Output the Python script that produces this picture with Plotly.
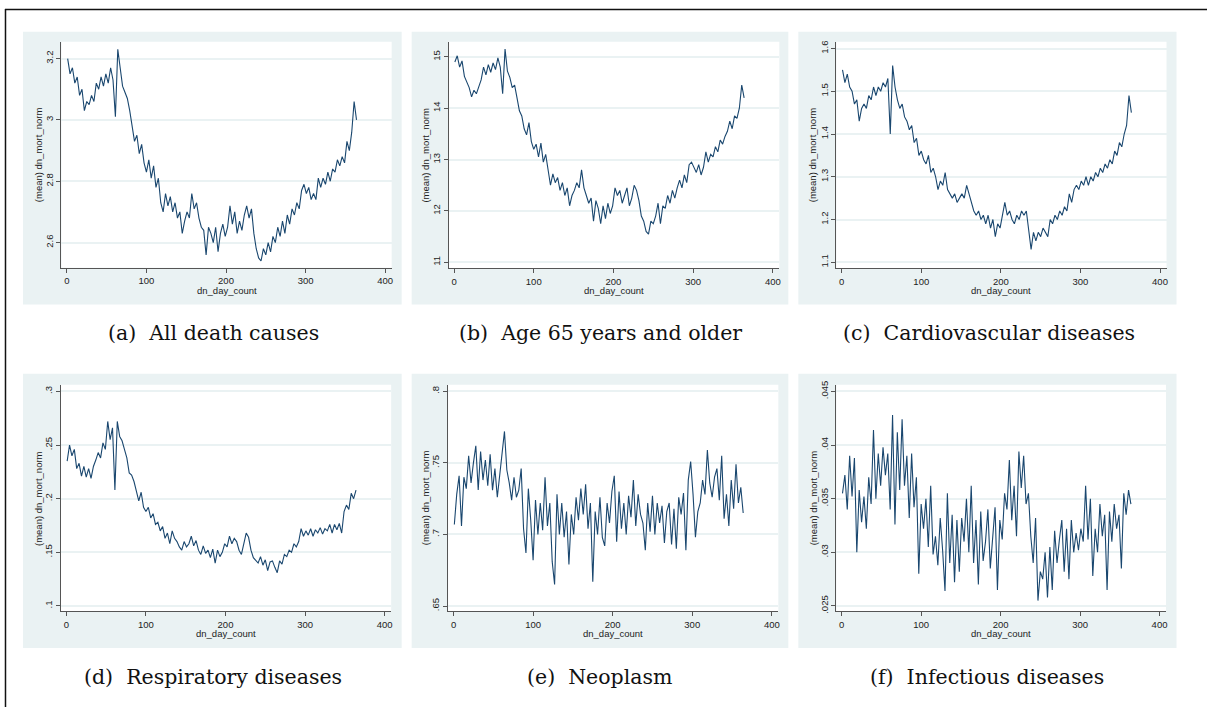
import plotly.graph_objects as go

# ---------------- data ----------------
day = list(range(1, 366, 3))

all_causes = [
    3.20, 3.15, 3.17, 3.12, 3.14, 3.08, 3.10, 3.03, 3.06, 3.05,
    3.08, 3.06, 3.12, 3.10, 3.14, 3.11, 3.15, 3.12, 3.17, 3.13,
    3.01, 3.23, 3.17, 3.11, 3.09, 3.07, 3.03, 2.98, 2.93, 2.95,
    2.89, 2.92, 2.86, 2.83, 2.87, 2.81, 2.85, 2.78, 2.81, 2.73,
    2.70, 2.76, 2.72, 2.75, 2.70, 2.73, 2.68, 2.70, 2.63, 2.67,
    2.70, 2.68, 2.76, 2.71, 2.73, 2.68, 2.65, 2.64, 2.56, 2.65,
    2.63, 2.60, 2.65, 2.57, 2.63, 2.66, 2.62, 2.65, 2.72, 2.66,
    2.70, 2.63, 2.67, 2.64, 2.69, 2.72, 2.68, 2.71, 2.63, 2.58,
    2.55, 2.54, 2.58, 2.56, 2.60, 2.57, 2.62, 2.60, 2.65, 2.62,
    2.67, 2.63, 2.69, 2.66, 2.71, 2.69, 2.73, 2.71, 2.77, 2.79,
    2.76, 2.78, 2.74, 2.76, 2.74, 2.81, 2.78, 2.81, 2.79, 2.83,
    2.80, 2.84, 2.83, 2.87, 2.85, 2.88, 2.86, 2.93, 2.90, 2.96,
    3.06, 3.00,
]

age65 = [
    14.90, 15.02, 14.80, 14.92, 14.62, 14.50, 14.40, 14.22, 14.35, 14.28,
    14.42, 14.55, 14.80, 14.65, 14.85, 14.70, 14.88, 14.75, 14.98, 14.80,
    14.28, 15.15, 14.72, 14.60, 14.40, 14.45, 14.20, 13.95, 13.85, 13.60,
    13.48, 13.72, 13.35, 13.20, 13.30, 13.05, 13.32, 12.95, 13.10, 12.80,
    12.50, 12.72, 12.55, 12.65, 12.40, 12.55, 12.30, 12.45, 12.10, 12.30,
    12.40, 12.55, 12.45, 12.80, 12.45, 12.30, 12.15, 12.25, 11.80, 12.20,
    12.05, 11.75, 12.10, 11.85, 12.15, 11.95, 12.10, 12.45, 12.30, 12.40,
    12.15, 12.30, 12.45, 12.10, 12.25, 12.50, 12.40, 12.20, 11.90, 11.80,
    11.60, 11.55, 11.80, 11.75, 11.90, 12.15, 11.75, 12.10, 12.05, 12.30,
    12.15, 12.40, 12.25, 12.45, 12.60, 12.45, 12.70, 12.55, 12.90, 12.95,
    12.85, 12.75, 12.90, 12.70, 12.85, 13.15, 12.95, 13.10, 13.05, 13.25,
    13.15, 13.38, 13.30, 13.45, 13.55, 13.75, 13.60, 13.85, 13.80, 14.00,
    14.45, 14.20,
]

cardio = [
    1.55, 1.52, 1.54, 1.51, 1.50, 1.47, 1.48, 1.43, 1.46, 1.47,
    1.46, 1.49, 1.48, 1.51, 1.49, 1.51, 1.50, 1.52, 1.51, 1.53,
    1.40, 1.56, 1.51, 1.48, 1.46, 1.47, 1.44, 1.43, 1.41, 1.42,
    1.38, 1.39, 1.35, 1.36, 1.34, 1.33, 1.35, 1.31, 1.32, 1.30,
    1.27, 1.29, 1.28, 1.31, 1.27, 1.26, 1.25, 1.26, 1.24, 1.25,
    1.26, 1.25, 1.28, 1.26, 1.24, 1.22, 1.21, 1.22, 1.20, 1.21,
    1.19, 1.21, 1.18, 1.20, 1.16, 1.19, 1.18, 1.21, 1.24, 1.21,
    1.22, 1.20, 1.19, 1.21, 1.20, 1.22, 1.21, 1.22, 1.18, 1.13,
    1.17, 1.15, 1.17, 1.16, 1.18, 1.17, 1.16, 1.20, 1.19, 1.21,
    1.20, 1.22, 1.21, 1.23, 1.22, 1.26, 1.24, 1.27, 1.28, 1.27,
    1.29, 1.28, 1.30, 1.28, 1.30, 1.29, 1.31, 1.30, 1.32, 1.31,
    1.33, 1.32, 1.34, 1.33, 1.36, 1.35, 1.38, 1.37, 1.40, 1.42,
    1.49, 1.45,
]

respiratory = [
    0.235, 0.250, 0.240, 0.246, 0.228, 0.233, 0.221, 0.230, 0.220, 0.228,
    0.219, 0.230, 0.236, 0.243, 0.238, 0.252, 0.246, 0.272, 0.255, 0.266,
    0.208, 0.272, 0.258, 0.254, 0.246, 0.238, 0.224, 0.222, 0.216, 0.208,
    0.198, 0.206, 0.192, 0.188, 0.192, 0.182, 0.186, 0.176, 0.178, 0.170,
    0.174, 0.163, 0.168, 0.158, 0.170, 0.163, 0.160, 0.155, 0.152, 0.160,
    0.155, 0.158, 0.165, 0.156, 0.161, 0.152, 0.148, 0.156, 0.149, 0.152,
    0.145, 0.153, 0.140, 0.152, 0.146, 0.150, 0.158, 0.155, 0.165, 0.158,
    0.163, 0.160, 0.152, 0.148, 0.158, 0.168, 0.164, 0.152, 0.145, 0.142,
    0.140, 0.146, 0.138, 0.143, 0.133, 0.141, 0.142, 0.136, 0.131, 0.142,
    0.139, 0.148, 0.146, 0.152, 0.150, 0.158, 0.155, 0.160, 0.172, 0.165,
    0.170, 0.166, 0.172, 0.165, 0.171, 0.168, 0.173, 0.167, 0.172, 0.170,
    0.176, 0.168, 0.176, 0.171, 0.177, 0.168, 0.188, 0.194, 0.190, 0.205,
    0.200, 0.208,
]

neoplasm = [
    0.707, 0.728, 0.741, 0.706, 0.740, 0.732, 0.755, 0.736, 0.750, 0.762,
    0.731, 0.758, 0.738, 0.752, 0.734, 0.756, 0.731, 0.746, 0.726, 0.742,
    0.754, 0.772, 0.745, 0.736, 0.724, 0.740, 0.726, 0.731, 0.746, 0.704,
    0.687, 0.732, 0.710, 0.682, 0.724, 0.700, 0.722, 0.703, 0.740, 0.706,
    0.722, 0.681, 0.665, 0.728, 0.700, 0.722, 0.698, 0.716, 0.679, 0.714,
    0.700, 0.726, 0.710, 0.732, 0.714, 0.735, 0.704, 0.722, 0.667, 0.716,
    0.700, 0.726, 0.698, 0.692, 0.722, 0.708, 0.730, 0.741, 0.695, 0.730,
    0.704, 0.722, 0.700, 0.727, 0.712, 0.738, 0.706, 0.728, 0.714, 0.708,
    0.689, 0.722, 0.702, 0.727, 0.700, 0.722, 0.708, 0.720, 0.694, 0.716,
    0.722, 0.693, 0.718, 0.690, 0.726, 0.714, 0.729, 0.689, 0.738, 0.751,
    0.728, 0.698, 0.716, 0.722, 0.738, 0.728, 0.759, 0.736, 0.726, 0.740,
    0.746, 0.724, 0.755, 0.711, 0.728, 0.706, 0.738, 0.718, 0.749, 0.722,
    0.733, 0.715,
]

infectious = [
    0.0355, 0.0372, 0.0340, 0.0390, 0.0352, 0.0388, 0.0300, 0.0358, 0.0328, 0.0352,
    0.0322, 0.0370, 0.0345, 0.0414, 0.0350, 0.0392, 0.0362, 0.0398, 0.0372, 0.0392,
    0.0340, 0.0428, 0.0326, 0.0412, 0.0358, 0.0424, 0.0362, 0.0390, 0.0332, 0.0392,
    0.0342, 0.0370, 0.0280, 0.0345, 0.0322, 0.0350, 0.0305, 0.0362, 0.0298, 0.0315,
    0.0288, 0.0332, 0.0302, 0.0264, 0.0355, 0.0290, 0.0335, 0.0272, 0.0330, 0.0282,
    0.0332, 0.0310, 0.0350, 0.0300, 0.0362, 0.0290, 0.0330, 0.0270, 0.0338, 0.0292,
    0.0310, 0.0340, 0.0285, 0.0312, 0.0342, 0.0265, 0.0330, 0.0312, 0.0355, 0.0340,
    0.0386, 0.0330, 0.0362, 0.0315, 0.0394, 0.0360, 0.0390, 0.0345, 0.0355, 0.0315,
    0.0290, 0.0332, 0.0255, 0.0282, 0.0275, 0.0300, 0.0258, 0.0305, 0.0265, 0.0320,
    0.0290, 0.0312, 0.0330, 0.0282, 0.0322, 0.0275, 0.0330, 0.0300, 0.0318, 0.0302,
    0.0322, 0.0310, 0.0362, 0.0312, 0.0350, 0.0278, 0.0322, 0.0300, 0.0345, 0.0315,
    0.0335, 0.0265, 0.0338, 0.0310, 0.0345, 0.0322, 0.0335, 0.0285, 0.0355, 0.0335,
    0.0358, 0.0345,
]

x_ticks = [0, 100, 200, 300, 400]
x_tick_labels = ["0", "100", "200", "300", "400"]

ticks_a = [2.6, 2.8, 3.0, 3.2]
labels_a = ["2.6", "2.8", "3", "3.2"]
ticks_b = [11, 12, 13, 14, 15]
labels_b = ["11", "12", "13", "14", "15"]
ticks_c = [1.1, 1.2, 1.3, 1.4, 1.5, 1.6]
labels_c = ["1.1", "1.2", "1.3", "1.4", "1.5", "1.6"]
ticks_d = [0.1, 0.15, 0.2, 0.25, 0.3]
labels_d = [".1", ".15", ".2", ".25", ".3"]
ticks_e = [0.65, 0.7, 0.75, 0.8]
labels_e = [".65", ".7", ".75", ".8"]
ticks_f = [0.025, 0.03, 0.035, 0.04, 0.045]
labels_f = [".025", ".03", ".035", ".04", ".045"]

captions = [
    "(a)\u00a0\u00a0All death causes",
    "(b)\u00a0\u00a0Age 65 years and older",
    "(c)\u00a0\u00a0Cardiovascular diseases",
    "(d)\u00a0\u00a0Respiratory diseases",
    "(e)\u00a0\u00a0Neoplasm",
    "(f)\u00a0\u00a0Infectious diseases",
]

x_title = "dn_day_count"
y_title = "(mean) dn_mort_norm"

# ---------------- layout ----------------
W, H = 1208, 709
LINE = "#1A476F"
BG = "#EAF2F3"
AX = "#555555"
TICKFONT = dict(family="Liberation Sans, Arial, sans-serif", size=9.5, color="#222222")

series = [all_causes, age65, cardio, respiratory, neoplasm, infectious]
yticks = [(ticks_a, labels_a), (ticks_b, labels_b), (ticks_c, labels_c),
          (ticks_d, labels_d), (ticks_e, labels_e), (ticks_f, labels_f)]
yranges = [[2.518, 3.255], [10.884, 15.295], [1.086, 1.616],
           [0.095, 0.3062], [0.6463, 0.8046], [0.0245, 0.04562]]
xrange_ = [-6.8, 408.2]

# plot boxes (x0, x1, y0, y1) in pixels (top-left origin)
boxes = [
    (61.5, 392.0, 38.0, 266.0),
    (449.0, 780.0, 38.0, 266.5),
    (837.0, 1167.5, 38.0, 266.5),
    (61.0, 391.5, 384.0, 612.5),
    (448.5, 779.0, 384.0, 612.5),
    (837.0, 1167.0, 384.0, 612.5),
]
grays = [
    (23, 402, 28, 303), (412, 789, 28, 303), (799, 1177.5, 28, 303),
    (23, 402, 373, 649.5), (412, 789, 373, 649.5), (799, 1177.5, 373, 649.5),
]
cap_pos = [(214, 332), (601, 332), (990, 332), (213, 679), (600, 679), (988, 679)]


def px(x):
    return x / W


def py(y):
    return 1 - y / H


fig = go.Figure()
shapes = []
annotations = []
layout = {}

for i in range(6):
    n = "" if i == 0 else str(i + 1)
    x0, x1, y0, y1 = boxes[i]
    g = grays[i]
    shapes.append(dict(type="rect", xref="paper", yref="paper",
                       x0=px(g[0]), x1=px(g[1]), y0=py(g[3]), y1=py(g[2]),
                       fillcolor=BG, line=dict(width=0), layer="below"))
    shapes.append(dict(type="rect", xref="paper", yref="paper",
                       x0=px(x0), x1=px(x1), y0=py(y1), y1=py(y0),
                       fillcolor="white", line=dict(width=0), layer="below"))
    fig.add_trace(go.Scatter(x=day, y=series[i], mode="lines",
                             line=dict(color=LINE, width=1.1),
                             xaxis="x" + n, yaxis="y" + n, showlegend=False,
                             hoverinfo="skip"))
    layout["xaxis" + n] = dict(
        domain=[px(x0), px(x1)], anchor="y" + n, range=xrange_,
        tickvals=x_ticks, ticktext=x_tick_labels, ticks="outside", ticklen=4,
        tickcolor=AX, showline=True, linecolor=AX, linewidth=1,
        showgrid=False, zeroline=False, tickfont=TICKFONT, fixedrange=True)
    tv, tt = yticks[i]
    layout["yaxis" + n] = dict(
        domain=[py(y1), py(y0)], anchor="x" + n, range=yranges[i],
        tickvals=tv, ticktext=tt, ticks="outside", ticklen=4, tickangle=-90,
        tickcolor=AX, showline=True, linecolor=AX, linewidth=1,
        showgrid=True, gridcolor=BG, gridwidth=1.5, zeroline=False,
        tickfont=TICKFONT, fixedrange=True)
    annotations.append(dict(text=x_title, xref="paper", yref="paper",
                            x=px((x0 + x1) / 2), y=py(y1 + 22.5),
                            xanchor="center", yanchor="middle", showarrow=False,
                            font=dict(family="Liberation Sans, Arial, sans-serif",
                                      size=9.5, color="#222222")))
    annotations.append(dict(text=y_title, xref="paper", yref="paper",
                            x=px(x0 - 23), y=py((y0 + y1) / 2), textangle=-90,
                            xanchor="center", yanchor="middle", showarrow=False,
                            font=dict(family="Liberation Sans, Arial, sans-serif",
                                      size=9.5, color="#222222")))
    cx, cy = cap_pos[i]
    annotations.append(dict(text=captions[i], xref="paper", yref="paper",
                            x=px(cx), y=py(cy), xanchor="center", yanchor="middle",
                            showarrow=False,
                            font=dict(family="DejaVu Serif, serif", size=20.5,
                                      color="#111111")))

# outer frame (top and left edges visible)
shapes.append(dict(type="line", xref="paper", yref="paper",
                   x0=px(5), x1=1, y0=py(5.5), y1=py(5.5),
                   line=dict(color="#111111", width=1.5)))
shapes.append(dict(type="line", xref="paper", yref="paper",
                   x0=px(5.5), x1=px(5.5), y0=0, y1=py(5),
                   line=dict(color="#111111", width=1.5)))

fig.update_layout(
    width=W, height=H, margin=dict(l=0, r=0, t=0, b=0),
    paper_bgcolor="white", plot_bgcolor="white",
    shapes=shapes, annotations=annotations, showlegend=False,
    **layout,
)

fig.write_html("out.html", config={"displayModeBar": False},
               post_script="document.body.style.margin='0';document.body.style.overflow='hidden';")
